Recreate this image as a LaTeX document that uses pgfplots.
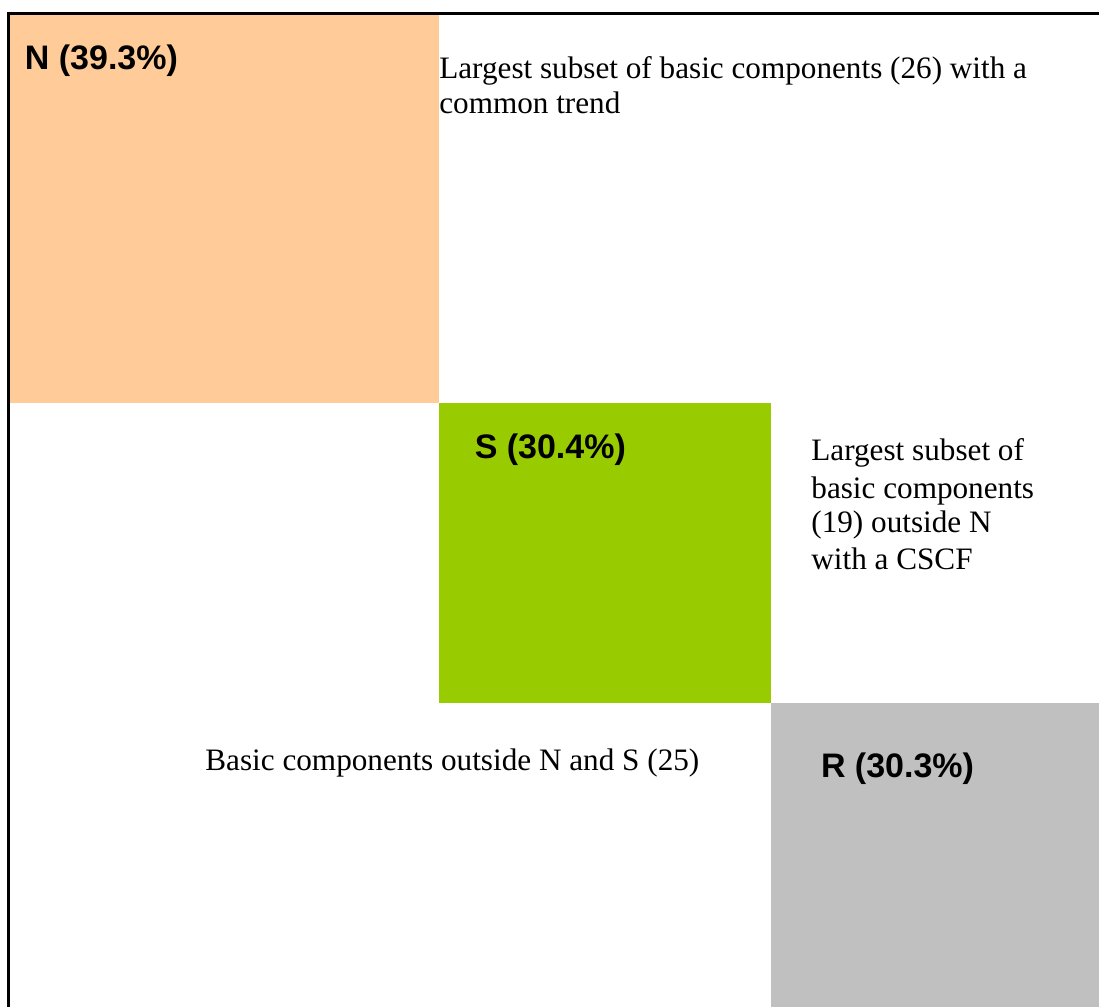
\documentclass[border=0pt]{standalone}
\usepackage{fontspec}
\setmainfont{Liberation Serif}
\newfontfamily\arialf{Liberation Sans}
\usepackage{pgfplots}
\pgfplotsset{compat=1.18}
\definecolor{peach}{HTML}{FFCC99}
\definecolor{lime}{HTML}{99CC00}
\definecolor{greyR}{HTML}{C0C0C0}
\begin{document}
\begin{tikzpicture}
\useasboundingbox (-4.25pt,0) rectangle (545.25pt,503.5pt);
\begin{axis}[
  at={(0,0)}, anchor=south west,
  scale only axis, width=545.25pt, height=496.75pt,
  xmin=0, xmax=100, ymin=0, ymax=100,
  axis x line=top, axis y line=left,
  axis line style={-, line width=1.5pt, line cap=rect},
  xtick=\empty, ytick=\empty,
  axis on top,
  clip=true,
]
% N
\addplot[fill=peach, draw=none] coordinates {(0,60.8) (39.5,60.8) (39.5,100) (0,100)};
% S
\addplot[fill=lime, draw=none] coordinates {(39.5,30.6) (69.9,30.6) (69.9,60.8) (39.5,60.8)};
% R
\addplot[fill=greyR, draw=none] coordinates {(69.9,0) (100,0) (100,30.6) (69.9,30.6)};
\tikzset{lab/.style={anchor=base west, inner sep=0pt, font=\arialf\bfseries\fontsize{17}{20}\selectfont},
         txt/.style={anchor=base west, inner sep=0pt, font=\fontsize{15.6}{17.8}\selectfont}}
\node[lab] at (axis cs:1.47,94.41) {N (39.3\%)};
\node[lab] at (axis cs:42.72,55.16) {S (30.4\%)};
\node[lab] at (axis cs:74.47,23.15) {R (30.3\%)};
\node[txt] at (axis cs:39.47,93.41) {Largest subset of basic components (26) with a};
\node[txt] at (axis cs:39.47,89.98) {common trend};
\node[txt] at (axis cs:73.59,54.96) {Largest subset of};
\node[txt] at (axis cs:73.59,51.23) {basic components};
\node[txt] at (axis cs:73.59,47.71) {(19) outside N};
\node[txt] at (axis cs:73.59,43.99) {with a CSCF};
\node[txt] at (axis cs:18.02,23.76) {Basic components outside N and S (25)};
\end{axis}
\end{tikzpicture}
\end{document}
